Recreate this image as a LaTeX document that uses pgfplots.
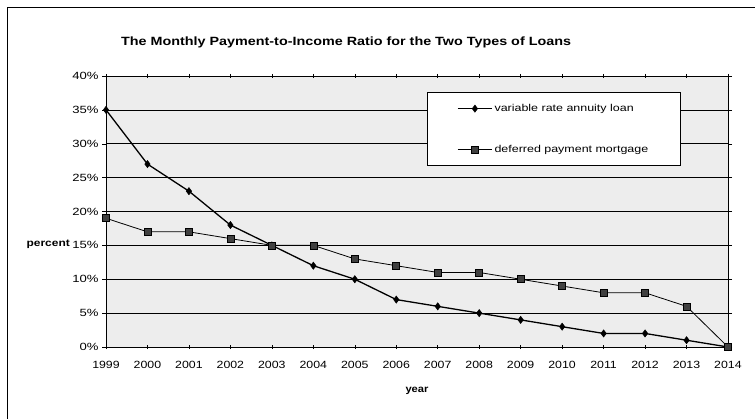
\documentclass[border=0pt]{standalone}
\usepackage{fontspec}
\setmainfont{Liberation Sans}
\usepackage{pgfplots}
\pgfplotsset{compat=1.18}
\newcommand{\wide}[2][1.25]{\scalebox{#1}[1]{#2}}
\begin{document}
\begin{tikzpicture}[x=1bp,y=1bp]
\useasboundingbox (0,0) rectangle (755,419);
\draw[line width=0.8pt] (7,0) -- (7,412) -- (755,412);
\node[font=\bfseries\fontsize{12}{14}\selectfont, anchor=base west, inner sep=0pt] at (121,374) {\wide[1.2]{The Monthly Payment-to-Income Ratio for the Two Types of Loans}};
\node[font=\bfseries\fontsize{10}{12}\selectfont, anchor=base east, inner sep=0pt] at (70,173) {\wide[1.2]{percent}};
\begin{axis}[
  at={(106bp,72bp)}, anchor=south west,
  scale only axis, width=622bp, height=271bp,
  xmin=1999, xmax=2014, ymin=0, ymax=40,
  axis background/.style={fill=gray!14},
  xtick={1999,...,2014}, ytick={0,5,...,40},
  /pgf/number format/assume math mode=true,
  xticklabel={\wide[1.18]{\pgfmathprintnumber[1000 sep={}]{\tick}}},
  yticklabel={\wide{\pgfmathprintnumber{\tick}\%}},
  tick label style={font=\fontsize{10.5}{12}\selectfont},
  xticklabel style={yshift=-9bp},
  ymajorgrids, grid style={black, line width=0.6pt},
  axis line style={black, line width=0.7pt},
  x tick style={black, line width=0.5pt},
  y tick style={black, line width=0.5pt},
  major tick length=4bp,
  xtick align=center, ytick align=outside,
  xlabel={\bfseries\wide[1.12]{year}}, xlabel style={font=\fontsize{10}{12}\selectfont, yshift=-11bp},
  legend style={at={(0.516,0.941)}, anchor=north west, draw=black, line width=0.6pt, fill=white,
    font=\fontsize{10}{12}\selectfont,
    inner xsep=30bp, inner ysep=10bp, row sep=28bp, cells={anchor=west}},
  legend image code/.code={
    \draw[#1] (0cm,0cm) -- (1.2cm,0cm);
    \draw[#1, mark repeat=2, mark phase=2] plot coordinates {(0cm,0cm) (0.6cm,0cm) (1.2cm,0cm)};},
  legend cell align=left,
]
\addplot[black, line width=1.3pt, mark=diamond*, mark size=3.6bp, mark options={solid, fill=black, line width=0.5pt}] coordinates {
(1999,35) (2000,27) (2001,23) (2002,18) (2003,15) (2004,12) (2005,10) (2006,7)
(2007,6) (2008,5) (2009,4) (2010,3) (2011,2) (2012,2) (2013,1) (2014,0)};
\addlegendentry{\wide{variable rate annuity loan}}
\addplot[black, line width=0.8pt, mark=square*, mark size=3.5bp, mark options={solid, fill=black!75, draw=black, line width=0.6pt}] coordinates {
(1999,19) (2000,17) (2001,17) (2002,16) (2003,15) (2004,15) (2005,13) (2006,12)
(2007,11) (2008,11) (2009,10) (2010,9) (2011,8) (2012,8) (2013,6) (2014,0)};
\addlegendentry{\wide{deferred payment mortgage}}
\end{axis}
\end{tikzpicture}
\end{document}
